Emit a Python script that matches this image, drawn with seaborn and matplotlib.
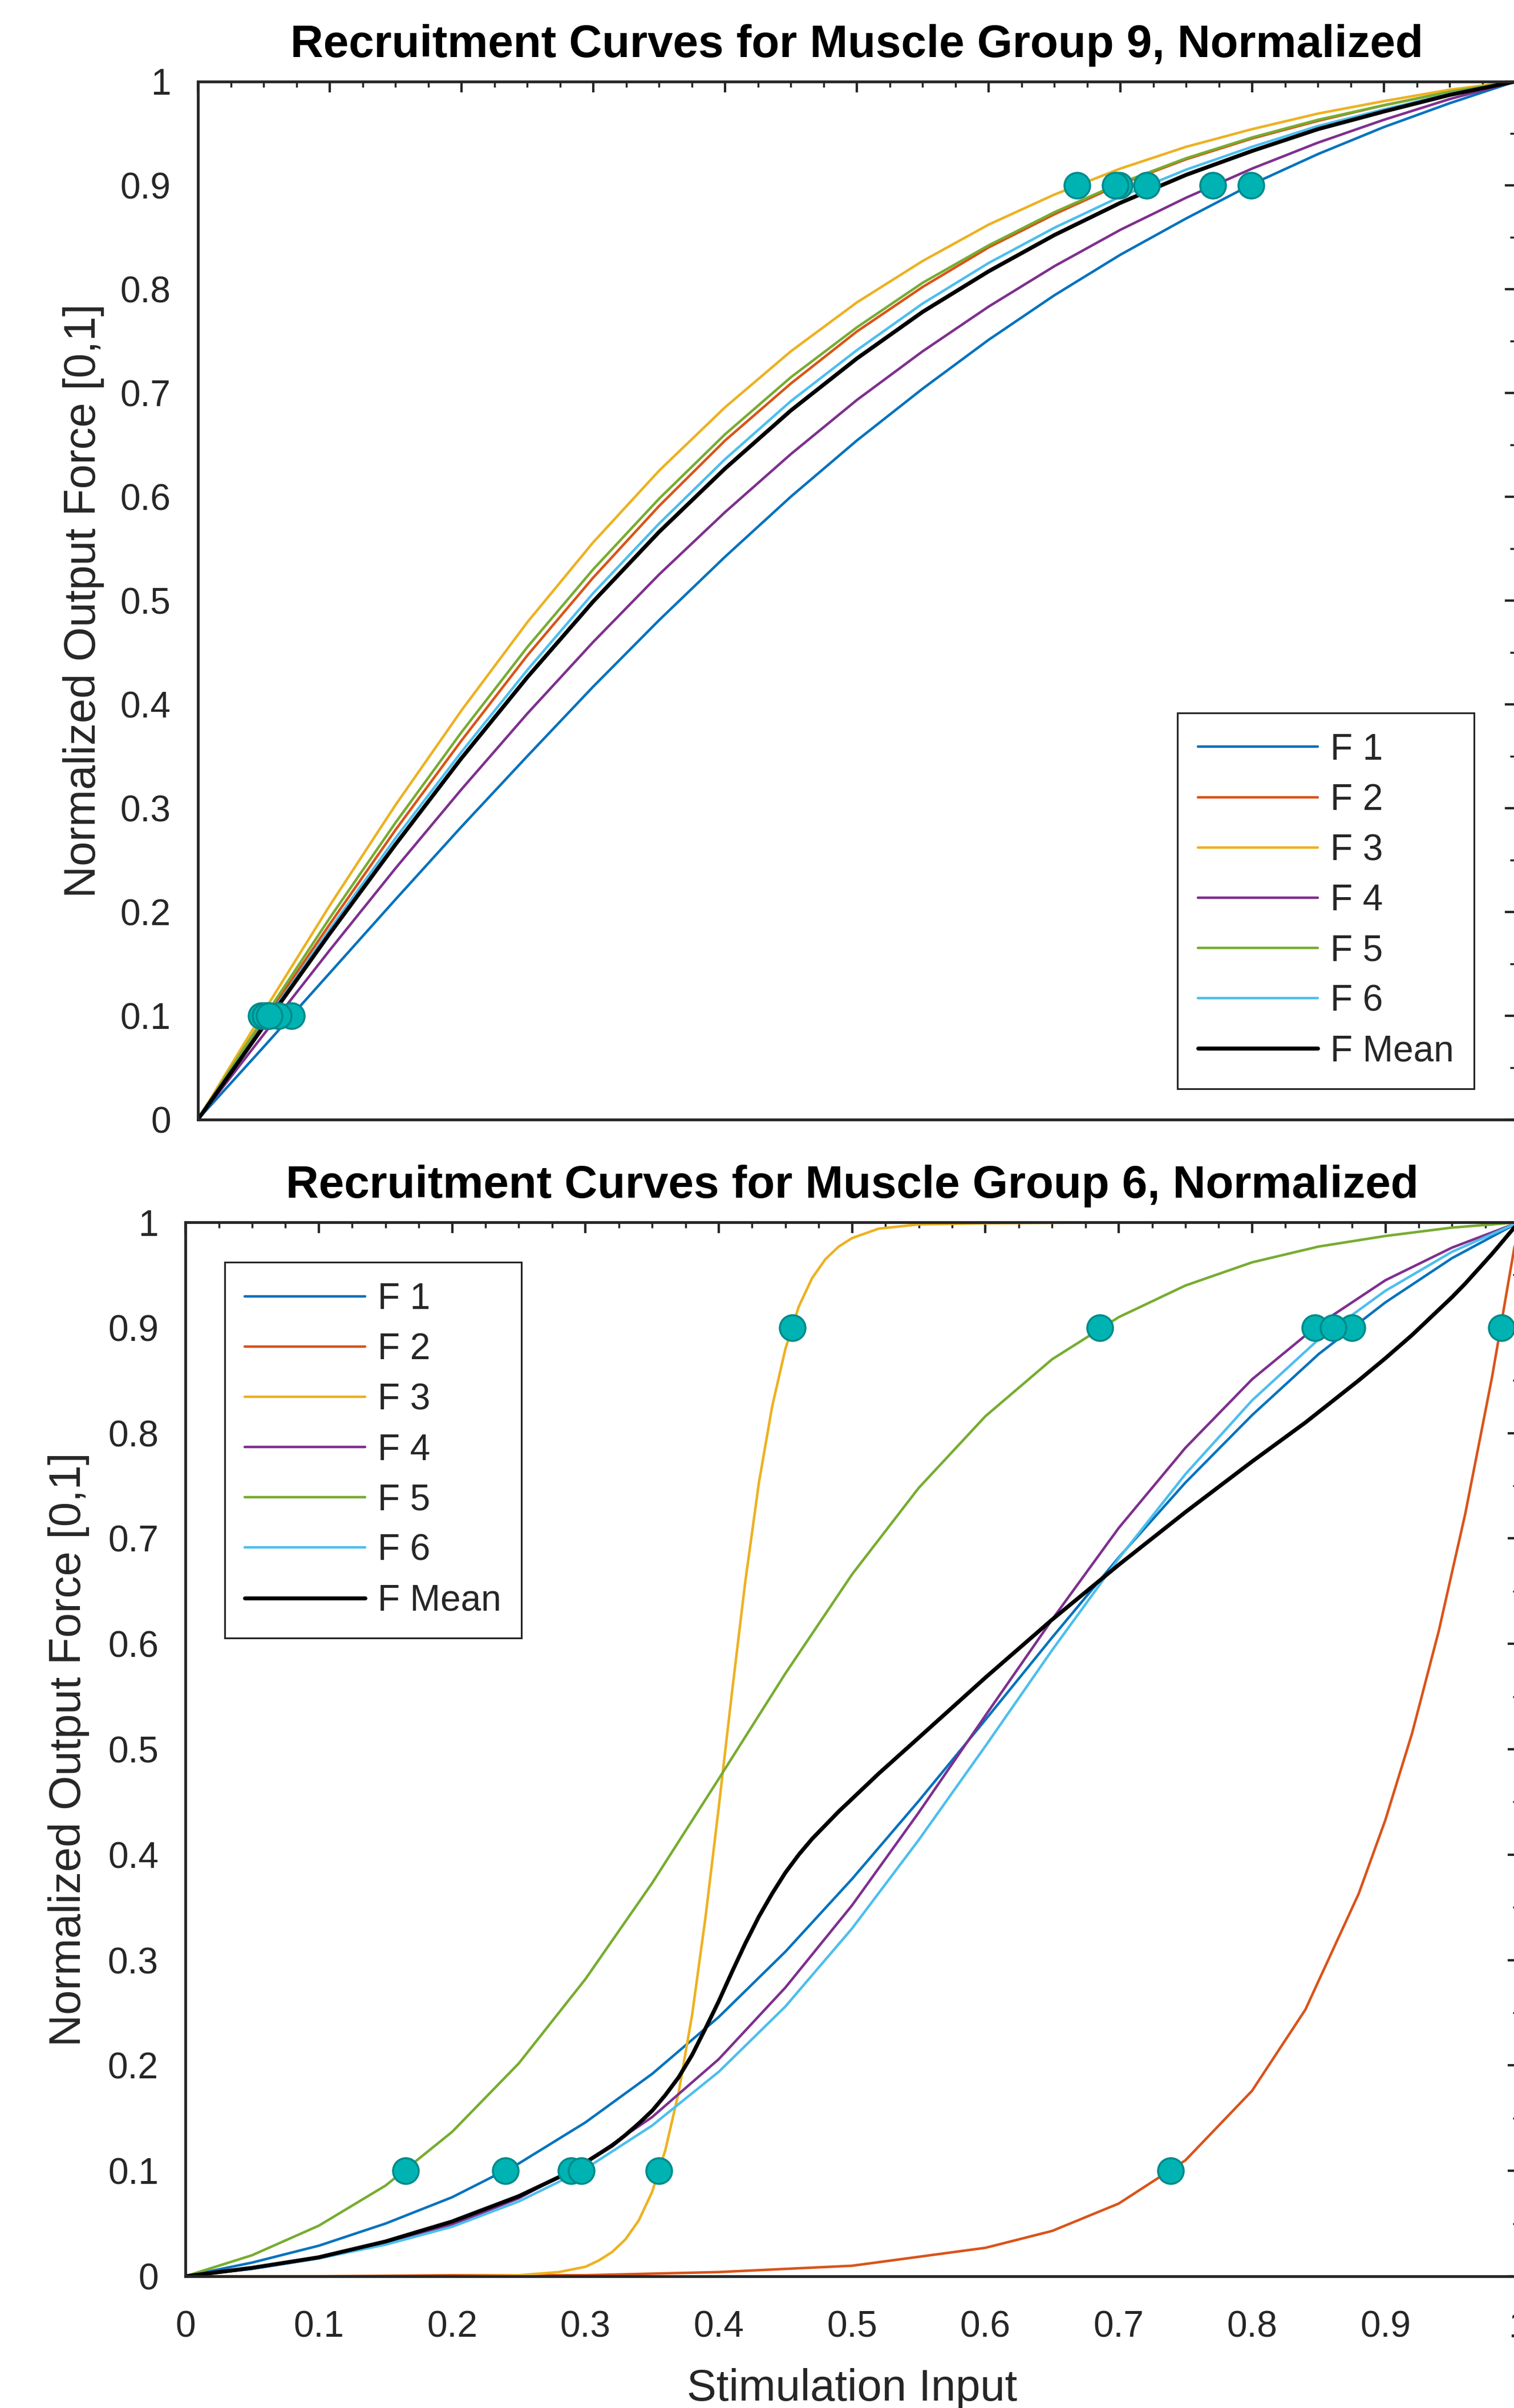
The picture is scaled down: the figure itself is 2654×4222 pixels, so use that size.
import numpy as np
import matplotlib
import matplotlib.pyplot as plt
import seaborn as sns
from matplotlib.ticker import MultipleLocator

matplotlib.use('Agg')

# stimulation grid shared by the gentle curves
x_grid = [0.00, 0.05, 0.10, 0.15, 0.20, 0.25, 0.30, 0.35, 0.40, 0.45, 0.50,
          0.55, 0.60, 0.65, 0.70, 0.75, 0.80, 0.85, 0.90, 0.95, 1.00]

# muscle group 9 (top panel)
g9_f1 = [0.000, 0.070, 0.141, 0.212, 0.282, 0.350, 0.417, 0.481, 0.542, 0.600, 0.654,
         0.704, 0.751, 0.794, 0.833, 0.868, 0.901, 0.930, 0.956, 0.979, 1.000]
g9_f2 = [0.000, 0.095, 0.188, 0.279, 0.365, 0.447, 0.522, 0.591, 0.654, 0.709, 0.759,
         0.802, 0.840, 0.872, 0.901, 0.925, 0.945, 0.962, 0.977, 0.990, 1.000]
g9_f3 = [0.000, 0.104, 0.206, 0.303, 0.394, 0.479, 0.556, 0.625, 0.686, 0.740, 0.787,
         0.827, 0.862, 0.891, 0.916, 0.937, 0.954, 0.969, 0.981, 0.992, 1.000]
g9_f4 = [0.000, 0.082, 0.163, 0.242, 0.318, 0.391, 0.460, 0.525, 0.585, 0.641, 0.693,
         0.740, 0.783, 0.822, 0.857, 0.888, 0.916, 0.941, 0.963, 0.983, 1.000]
g9_f5 = [0.000, 0.098, 0.194, 0.286, 0.373, 0.455, 0.530, 0.598, 0.660, 0.715, 0.763,
         0.806, 0.842, 0.874, 0.902, 0.926, 0.946, 0.963, 0.977, 0.990, 1.000]
g9_f6 = [0.000, 0.092, 0.183, 0.271, 0.354, 0.433, 0.507, 0.574, 0.636, 0.692, 0.741,
         0.786, 0.825, 0.859, 0.889, 0.915, 0.937, 0.957, 0.973, 0.988, 1.000]
g9_mean = [0.000, 0.090, 0.179, 0.265, 0.348, 0.426, 0.499, 0.566, 0.627, 0.683, 0.733,
           0.778, 0.817, 0.852, 0.883, 0.910, 0.933, 0.954, 0.971, 0.987, 1.000]
g9_x10 = [0.071, 0.053, 0.048, 0.061, 0.051, 0.054]
g9_x90 = [0.799, 0.699, 0.667, 0.770, 0.696, 0.720]

# muscle group 6 (bottom panel)
g6_f1 = [0.000, 0.013, 0.029, 0.050, 0.075, 0.107, 0.146, 0.192, 0.246, 0.308, 0.377,
         0.451, 0.528, 0.606, 0.682, 0.753, 0.817, 0.875, 0.924, 0.966, 1.000]
g6_f2_x = [0.00, 0.10, 0.20, 0.30, 0.40, 0.50, 0.60, 0.65, 0.70, 0.75,
           0.80, 0.84, 0.88, 0.90, 0.92, 0.94, 0.96, 0.98, 1.00]
g6_f2 = [0.000, 0.000, 0.001, 0.001, 0.004, 0.010, 0.027, 0.043, 0.069, 0.110,
         0.176, 0.253, 0.363, 0.433, 0.515, 0.612, 0.724, 0.853, 1.000]
g6_f3_x = [0.00, 0.10, 0.20, 0.25, 0.28, 0.30, 0.31, 0.32, 0.33, 0.34, 0.35,
           0.36, 0.37, 0.38, 0.39, 0.40, 0.41, 0.42, 0.43, 0.44, 0.45, 0.46,
           0.47, 0.48, 0.49, 0.50, 0.52, 0.55, 0.60, 0.70, 0.80, 0.90, 1.00]
g6_f3 = [0.000, 0.000, 0.000, 0.001, 0.004, 0.009, 0.015, 0.023, 0.035, 0.053, 0.080,
         0.120, 0.175, 0.248, 0.340, 0.445, 0.555, 0.660, 0.752, 0.825, 0.880, 0.920,
         0.947, 0.965, 0.977, 0.985, 0.994, 0.998, 0.999, 1.000, 1.000, 1.000, 1.000]
g6_f4 = [0.000, 0.007, 0.017, 0.031, 0.049, 0.074, 0.108, 0.151, 0.206, 0.274, 0.352,
         0.440, 0.532, 0.623, 0.710, 0.786, 0.851, 0.903, 0.945, 0.976, 1.000]
g6_f5 = [0.000, 0.020, 0.048, 0.086, 0.137, 0.202, 0.282, 0.373, 0.472, 0.572, 0.666,
         0.748, 0.816, 0.870, 0.910, 0.940, 0.962, 0.977, 0.987, 0.995, 1.000]
g6_f6 = [0.000, 0.007, 0.017, 0.030, 0.047, 0.071, 0.102, 0.143, 0.194, 0.256, 0.330,
         0.414, 0.503, 0.594, 0.681, 0.761, 0.831, 0.889, 0.935, 0.972, 1.000]
g6_mean_x = [0.00, 0.05, 0.10, 0.15, 0.20, 0.25, 0.28, 0.30, 0.31, 0.32, 0.33, 0.34,
             0.35, 0.36, 0.37, 0.38, 0.39, 0.40, 0.41, 0.42, 0.43, 0.44, 0.45, 0.46,
             0.47, 0.48, 0.49, 0.50, 0.52, 0.55, 0.60, 0.65, 0.70, 0.75, 0.80, 0.84,
             0.85, 0.88, 0.90, 0.92, 0.94, 0.95, 0.96, 0.98, 1.00]
g6_mean = [0.000, 0.008, 0.018, 0.033, 0.052, 0.076, 0.094, 0.108, 0.116, 0.124, 0.134, 0.145,
           0.157, 0.172, 0.189, 0.210, 0.235, 0.261, 0.289, 0.316, 0.341, 0.363, 0.383, 0.400,
           0.415, 0.428, 0.441, 0.453, 0.477, 0.511, 0.568, 0.623, 0.675, 0.725, 0.773, 0.810,
           0.820, 0.850, 0.871, 0.893, 0.917, 0.929, 0.942, 0.970, 1.000]
g6_x10 = [0.240, 0.739, 0.355, 0.289, 0.165, 0.297]
g6_x90 = [0.875, 0.987, 0.455, 0.847, 0.686, 0.861]

curve_names = ['F 1', 'F 2', 'F 3', 'F 4', 'F 5', 'F 6']
tick_labels = ['0', '0.1', '0.2', '0.3', '0.4', '0.5', '0.6', '0.7', '0.8', '0.9', '1']
colors = ['#0072BD', '#D95319', '#EDB120', '#7E2F8E', '#77AC30', '#4DBEEE']

sns.set_theme(style='white')
plt.rcParams['font.family'] = ['Liberation Sans', 'DejaVu Sans']

fig = plt.figure(figsize=(26.54, 42.22), dpi=100)
ax1 = fig.add_axes([0.1307, 0.5351, 0.8704, 0.4311])
ax2 = fig.add_axes([0.1225, 0.0547, 0.8806, 0.4377])

panels = [
    (ax1, 'Recruitment Curves for Muscle Group 9, Normalized',
     [(x_grid, g9_f1), (x_grid, g9_f2), (x_grid, g9_f3), (x_grid, g9_f4), (x_grid, g9_f5), (x_grid, g9_f6)],
     (x_grid, g9_mean), g9_x10, g9_x90),
    (ax2, 'Recruitment Curves for Muscle Group 6, Normalized',
     [(x_grid, g6_f1), (g6_f2_x, g6_f2), (g6_f3_x, g6_f3), (x_grid, g6_f4), (x_grid, g6_f5), (x_grid, g6_f6)],
     (g6_mean_x, g6_mean), g6_x10, g6_x90),
]

for ax, title, curves, mean, x10, x90 in panels:
    for (xs, ys), name, col in zip(curves, curve_names, colors):
        sns.lineplot(x=xs, y=ys, color=col, lw=3.2, label=name, ax=ax, sort=False, estimator=None)
    sns.lineplot(x=mean[0], y=mean[1], color='black', lw=5, label='F Mean', ax=ax, sort=False, estimator=None)
    sns.scatterplot(x=x10 + x90, y=[0.1] * len(x10) + [0.9] * len(x90), s=1050, color='#00B3B3',
                    edgecolor='#008A8A', linewidth=2.5, ax=ax, zorder=5)

    ax.set_xlim(0, 1)
    ax.set_ylim(0, 1)
    ax.set_title(title, fontsize=57.5, fontweight='bold', pad=31, color='black')
    ax.set_ylabel('Normalized Output Force [0,1]', fontsize=56, color='#262626')
    ticks = np.linspace(0, 1, 11)
    ax.set_yticks(ticks, tick_labels)
    ax.set_xticks(ticks, tick_labels)
    ax.xaxis.set_minor_locator(MultipleLocator(0.025))
    ax.yaxis.set_minor_locator(MultipleLocator(0.05))
    ax.tick_params(which='both', direction='in', top=True, right=True, colors='#262626', labelsize=46, pad=34)
    ax.tick_params(which='major', length=14, width=3)
    ax.tick_params(which='minor', length=7, width=2.5)
    for s in ax.spines.values():
        s.set_linewidth(3.5)
        s.set_color('#262626')

ax1.set_xticklabels([])
ax1.yaxis.set_label_coords(-0.071, 0.5)
ax2.yaxis.set_label_coords(-0.072, 0.5)
ax2.set_xlabel('Stimulation Input', fontsize=56, color='#262626')
ax2.xaxis.set_label_coords(0.5, -0.087)
ax2.tick_params(axis='x', pad=43)

leg_kw = dict(fontsize=46, frameon=True, fancybox=False, framealpha=1, edgecolor='#262626', borderaxespad=0,
              handlelength=3.3, handletextpad=0.34, labelspacing=0.44, borderpad=0.55)
leg1 = ax1.legend(loc='upper right', bbox_to_anchor=(0.9684, 0.3918), **leg_kw)
leg2 = ax2.legend(loc='upper left', bbox_to_anchor=(0.0295, 0.9621), **leg_kw)
for leg in (leg1, leg2):
    leg.get_frame().set_linewidth(2.2)

fig.savefig('out.png', dpi=100)
